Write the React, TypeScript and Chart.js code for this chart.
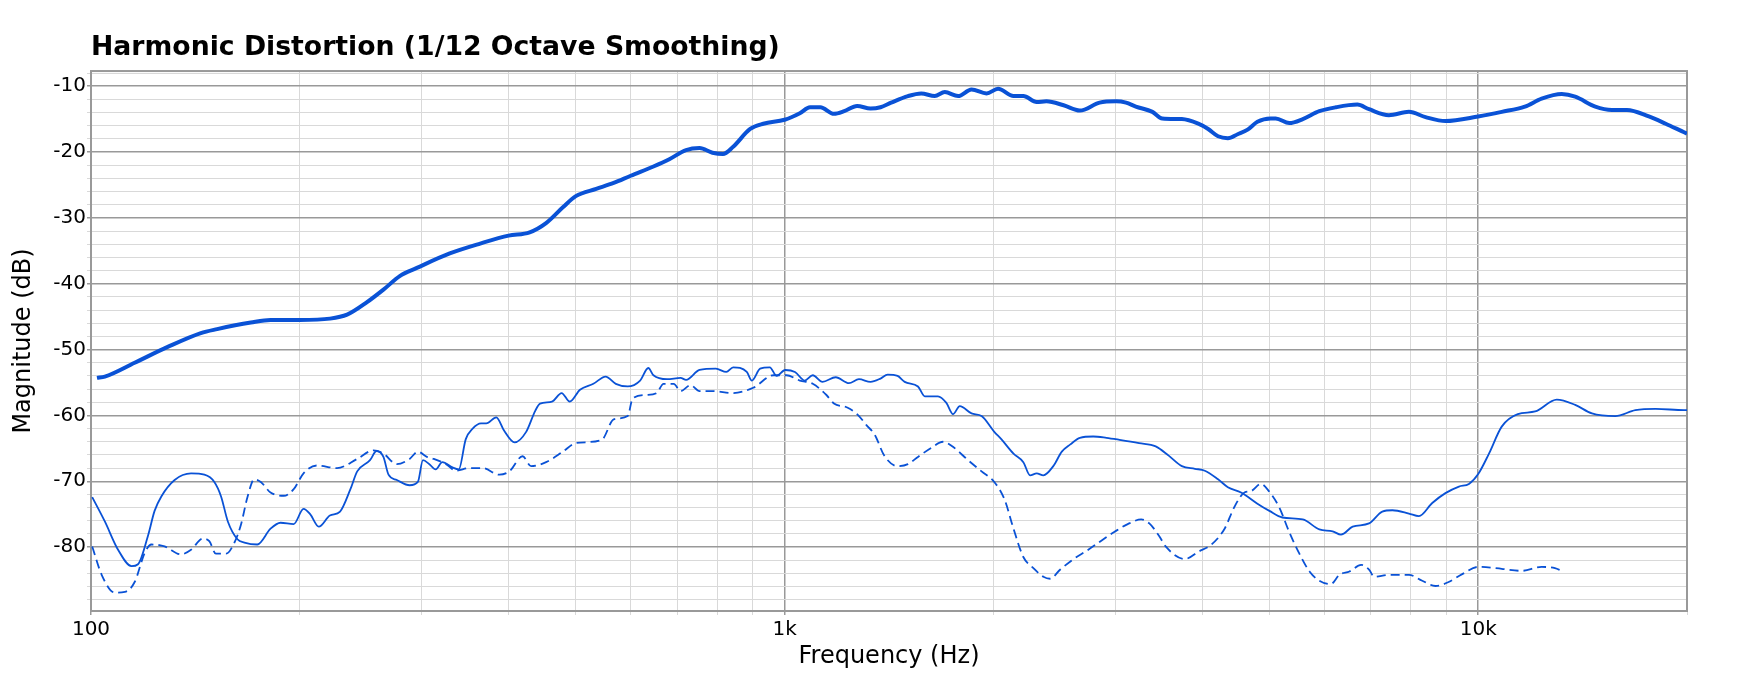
import { useEffect, useRef } from "react"
import { Chart, registerables } from "chart.js"

Chart.register(...registerables)

// Curva grossa (topo)
const thickFreq = [
  102, 104.7, 115.6, 129, 144, 152, 170, 181.5, 200, 221, 234, 250, 264, 279, 295, 329, 364, 400, 429, 453,
  479, 500, 535, 567, 600, 647, 682, 721, 754, 787, 815, 843, 892, 932, 1000, 1052, 1088, 1126, 1178, 1219,
  1272, 1330, 1375, 1424, 1506, 1574, 1646, 1702, 1779, 1860, 1955, 2031, 2138, 2209, 2309, 2385, 2525, 2665,
  2845, 3006, 3106, 3209, 3391, 3503, 3739, 3948, 4080, 4216, 4356, 4500, 4651, 4805, 5021, 5106, 5340, 5586,
  5901, 6236, 6696, 6960, 7435, 7945, 8396, 8969, 10000, 10812, 11676, 12344, 13197, 13798, 14751, 15588,
  16387, 17622, 18634, 19808, 20000,
]
const thickDb = [
  -54.3, -54.1, -52.0, -49.6, -47.5, -46.9, -45.9, -45.5, -45.5, -45.3, -44.7, -42.8, -40.9, -38.8, -37.6, -35.4,
  -33.9, -32.7, -32.2, -30.8, -28.4, -26.7, -25.6, -24.7, -23.6, -22.2, -21.1, -19.7, -19.4, -20.1, -20.3, -19.2,
  -16.5, -15.7, -15.1, -14.1, -13.2, -13.2, -14.2, -13.8, -13.0, -13.4, -13.2, -12.5, -11.5, -11.1, -11.5, -10.9,
  -11.5, -10.5, -11.1, -10.4, -11.5, -11.5, -12.4, -12.3, -12.9, -13.7, -12.5, -12.3, -12.5, -13.1, -13.9, -14.9,
  -15.0, -15.7, -16.5, -17.6, -17.9, -17.3, -16.6, -15.4, -14.9, -14.9, -15.6, -15.0, -13.8, -13.2, -12.8, -13.5,
  -14.4, -13.9, -14.7, -15.3, -14.6, -13.9, -13.1, -11.9, -11.2, -11.6, -13.1, -13.6, -13.6, -14.6, -15.7, -17.0,
  -17.2,
]

// Curva fina contínua
const solidFreq = [
  100.4, 104.7, 109.4, 114.4, 116.9, 120.8, 123.5, 126.3, 132, 139.4, 145.7, 150.6, 154, 157.5, 162.6, 166.4,
  173.7, 181.5, 187.6, 196, 202.5, 207, 213, 221, 228.6, 236.6, 242, 252.5, 258, 264, 268.5, 276, 288, 296, 301,
  307.5, 314, 321, 332, 339, 347, 355, 365, 371.5, 384, 394, 408, 424, 437, 444, 462, 477, 490, 507, 530, 552,
  571, 594, 619, 636, 647, 677, 708, 721, 754, 796, 824, 843, 882, 897, 922, 952, 974, 1002, 1035, 1069, 1098,
  1134, 1185, 1238, 1280, 1330, 1375, 1408, 1455, 1490, 1557, 1593, 1664, 1711, 1749, 1789, 1860, 1923, 2006,
  2053, 2138, 2209, 2259, 2309, 2361, 2440, 2510, 2582, 2665, 2786, 2911, 3040, 3244, 3428, 3579, 3739, 3904,
  4035, 4216, 4356, 4551, 4805, 5000, 5220, 5586, 5901, 6167, 6341, 6592, 6960, 7273, 7522, 7945, 8213, 8585,
  8969, 9380, 9697, 10000, 10364, 10812, 11405, 12081, 12981, 13798, 14587, 15760, 16849, 18022, 19808, 20000,
]
const solidDb = [
  -72.4, -76.1, -80.4, -82.9, -82.6, -78.3, -74.5, -72.3, -69.8, -68.8, -69.0, -70.1, -72.3, -76.1, -78.8, -79.3,
  -79.6, -77.2, -76.3, -76.5, -74.2, -75.0, -76.9, -75.2, -74.6, -71.2, -68.5, -66.8, -65.4, -66.3, -69.0, -69.8,
  -70.6, -70.1, -66.8, -67.4, -68.2, -67.1, -67.9, -68.2, -63.6, -62.0, -61.2, -61.2, -60.3, -62.3, -64.1, -62.5,
  -59.3, -58.2, -57.9, -56.6, -57.9, -56.1, -55.2, -54.1, -55.2, -55.6, -54.7, -52.8, -53.9, -54.5, -54.3, -54.6,
  -53.1, -52.9, -53.4, -52.7, -53.4, -54.7, -52.9, -52.7, -54.0, -53.1, -53.4, -54.7, -53.9, -54.9, -54.2, -55.1,
  -54.5, -54.9, -54.4, -53.8, -54.0, -54.9, -55.6, -57.1, -57.1, -58.1, -59.8, -58.6, -59.7, -60.1, -62.5, -63.6,
  -65.8, -67.1, -69.1, -68.8, -69.1, -67.7, -65.5, -64.4, -63.4, -63.2, -63.4, -63.7, -64.2, -64.7, -66.1, -67.7,
  -68.1, -68.4, -69.7, -70.9, -71.7, -73.4, -74.5, -75.5, -75.8, -77.3, -77.6, -78.1, -76.9, -76.4, -74.6, -74.4,
  -74.9, -75.3, -73.3, -71.8, -70.8, -70.4, -68.9, -65.8, -61.7, -59.8, -59.4, -57.6, -58.4, -59.7, -60.1, -59.2,
  -59.0, -59.2, -59.2,
]

// Curva fina tracejada
const dashedFreq = [
  100.4, 103.6, 108.2, 111.9, 115.6, 119.5, 122.2, 127.7, 134.8, 139.4, 144.9, 148.1, 151.4, 156.6, 161, 164.5,
  168.2, 172, 175.7, 181.5, 189.6, 196, 202.5, 211.7, 226.3, 242, 255.4, 264, 276, 288, 296, 305, 312, 325, 336,
  351, 367, 388, 401, 419, 431, 453, 479, 500, 545, 567, 594, 604, 632, 654, 669, 692, 708, 732, 754, 787, 843,
  901, 964, 1006, 1052, 1098, 1149, 1178, 1231, 1272, 1313, 1350, 1392, 1455, 1506, 1557, 1628, 1692, 1740, 1839,
  1923, 2006, 2076, 2138, 2209, 2284, 2361, 2414, 2497, 2611, 2731, 2855, 2987, 3124, 3267, 3356, 3467, 3543,
  3778, 3948, 4125, 4309, 4451, 4602, 4703, 4860, 5000, 5163, 5340, 5523, 5712, 5901, 6133, 6306, 6522, 6780,
  6960, 7080, 7435, 7945, 8304, 8677, 9065, 9484, 10000, 10812, 11553, 12344, 12901, 13197,
]
const dashedDb = [
  -79.9, -84.2, -86.9, -86.8, -85.3, -80.9, -79.6, -79.9, -81.1, -80.4, -78.7, -79.1, -81.0, -81.0, -79.3, -76.6,
  -72.3, -69.7, -70.1, -71.7, -72.2, -71.2, -68.8, -67.6, -68.0, -66.6, -65.3, -65.8, -67.4, -66.6, -65.5, -66.3,
  -66.6, -67.4, -68.4, -68.0, -68.0, -69.0, -68.5, -66.2, -67.7, -67.1, -65.5, -64.2, -63.7, -60.6, -60.1, -57.4,
  -56.9, -56.6, -55.2, -55.2, -56.3, -55.4, -56.3, -56.3, -56.6, -55.8, -53.9, -53.9, -54.7, -55.2, -56.9, -58.2,
  -58.8, -59.8, -61.5, -63.0, -66.1, -67.7, -67.4, -66.3, -64.9, -64.0, -64.6, -66.8, -68.5, -70.1, -72.8, -77.2,
  -81.5, -83.2, -84.5, -84.8, -83.4, -81.8, -80.5, -79.1, -77.7, -76.5, -75.8, -76.4, -78.3, -79.9, -81.8, -80.7,
  -79.6, -77.2, -73.9, -71.7, -71.5, -70.4, -71.6, -73.9, -77.7, -81.0, -83.7, -85.1, -85.6, -84.2, -83.7, -82.7,
  -83.4, -84.5, -84.2, -84.2, -85.1, -85.9, -85.3, -84.1, -83.0, -83.3, -83.6, -83.0, -83.2, -83.6,
]

// Eixos
const xTickValues = [
  100, 200, 300, 400, 500, 600, 700, 800, 900, 1000, 2000, 3000, 4000, 5000, 6000, 7000, 8000, 9000, 10000, 20000,
]
const xLabelValues = [100, 1000, 10000]
const xLabelText = ["100", "1k", "10k"]
const yLabelValues = [-80, -70, -60, -50, -40, -30, -20, -10]
const yMinorStep = 2

const LINE_BLUE = "#0a52d6"
const MAJOR_GRID = "#999999"
const MINOR_GRID = "#d9d9d9"
const FONT = "'DejaVu Sans', Verdana, sans-serif"

function toPoints(freq: number[], db: number[]) {
  return freq.map((f, i) => ({ x: f, y: db[i] }))
}

// moldura em volta da área do gráfico
const framePlugin = {
  id: "frame",
  beforeDatasetsDraw(chart: Chart) {
    const { ctx, chartArea: a } = chart
    ctx.save()
    ctx.strokeStyle = MAJOR_GRID
    ctx.lineWidth = 2
    ctx.strokeRect(a.left, a.top, a.right - a.left, a.bottom - a.top)
    ctx.restore()
  },
}

export default function App() {
  const chartRef = useRef<HTMLCanvasElement>(null)
  const chartInstance = useRef<Chart | null>(null)

  useEffect(() => {
    if (!chartRef.current) return
    if (chartInstance.current) chartInstance.current.destroy()

    const ctx = chartRef.current.getContext("2d")
    if (!ctx) return

    chartInstance.current = new Chart(ctx, {
      type: "line",
      data: {
        datasets: [
          {
            label: "Thick",
            data: toPoints(thickFreq, thickDb),
            borderColor: LINE_BLUE,
            borderWidth: 4,
            pointRadius: 0,
            cubicInterpolationMode: "monotone",
          },
          {
            label: "Solid",
            data: toPoints(solidFreq, solidDb),
            borderColor: LINE_BLUE,
            borderWidth: 1.8,
            pointRadius: 0,
            cubicInterpolationMode: "monotone",
          },
          {
            label: "Dashed",
            data: toPoints(dashedFreq, dashedDb),
            borderColor: LINE_BLUE,
            borderWidth: 1.8,
            borderDash: [9, 5],
            pointRadius: 0,
            cubicInterpolationMode: "monotone",
          },
        ],
      },
      options: {
        animation: false,
        responsive: true,
        maintainAspectRatio: false,
        layout: { padding: { top: 32.5, right: 65, left: 0, bottom: 0 } },
        plugins: {
          legend: { display: false },
          tooltip: { enabled: false },
          title: {
            display: true,
            text: "Harmonic Distortion (1/12 Octave Smoothing)",
            align: "start",
            fullSize: false,
            color: "#000",
            font: { family: FONT, size: 26.7, weight: "bold", lineHeight: 1.2 },
            padding: { top: 0, bottom: 6.5 },
          },
        },
        scales: {
          x: {
            type: "logarithmic",
            min: 100,
            max: 20000,
            afterBuildTicks: (scale: any) => {
              scale.ticks = xTickValues.map((v) => ({ value: v }))
            },
            afterFit: (scale: any) => {
              scale.height = 77
            },
            ticks: {
              autoSkip: false,
              maxRotation: 0,
              minRotation: 0,
              padding: 2.5,
              color: "#000",
              font: { family: FONT, size: 20 },
              callback: (value: any) => {
                const i = xLabelValues.indexOf(Number(value))
                return i >= 0 ? xLabelText[i] : ""
              },
            },
            grid: {
              color: (c: any) => (xLabelValues.includes(c.tick?.value) ? MAJOR_GRID : MINOR_GRID),
              lineWidth: (c: any) => (xLabelValues.includes(c.tick?.value) ? 1.5 : 1),
              tickLength: 4,
            },
            border: { display: false },
            title: {
              display: true,
              text: "Frequency (Hz)",
              color: "#000",
              font: { family: FONT, size: 24 },
              padding: { top: 0, bottom: 16.6 },
            },
          },
          y: {
            type: "linear",
            min: -89.7,
            max: -7.7,
            afterBuildTicks: (scale: any) => {
              const t = []
              for (let v = -88; v <= -8; v += yMinorStep) t.push({ value: v })
              scale.ticks = t
            },
            afterFit: (scale: any) => {
              scale.width = 91
            },
            ticks: {
              autoSkip: false,
              padding: 1,
              color: "#000",
              font: { family: FONT, size: 20 },
              callback: (value: any) => (yLabelValues.includes(Number(value)) ? String(value) : ""),
            },
            grid: {
              color: (c: any) => (yLabelValues.includes(c.tick?.value) ? MAJOR_GRID : MINOR_GRID),
              lineWidth: (c: any) => (yLabelValues.includes(c.tick?.value) ? 1.5 : 1),
              tickLength: 4,
            },
            border: { display: false },
            title: {
              display: true,
              text: "Magnitude (dB)",
              color: "#000",
              font: { family: FONT, size: 24 },
              padding: { top: 9.6, bottom: 0 },
            },
          },
        },
      },
      plugins: [framePlugin],
    })

    return () => {
      if (chartInstance.current) {
        chartInstance.current.destroy()
        chartInstance.current = null
      }
    }
  }, [])

  return (
    <div style={{ position: "fixed", left: 0, top: 0, width: 1752, height: 688, background: "#fff" }}>
      <canvas ref={chartRef} />
    </div>
  )
}
